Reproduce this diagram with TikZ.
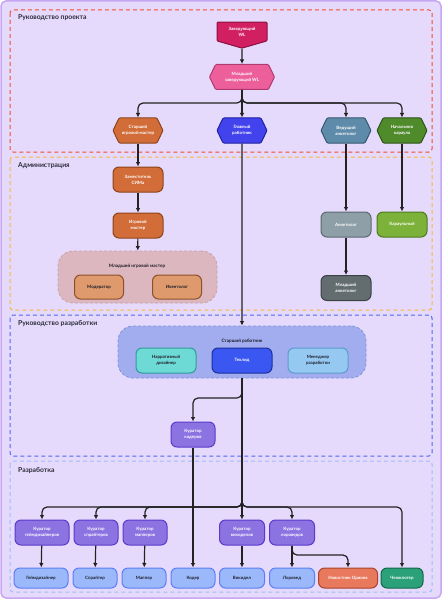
\documentclass[tikz,border=0pt]{standalone}
\usepackage{fontspec}
\setmainfont{Lato}
\usetikzlibrary{positioning}
\usetikzlibrary{shapes,arrows.meta}

\definecolor{bg}{HTML}{E6DAFC}
\definecolor{bgline}{HTML}{C9A6F4}
\definecolor{fred}{HTML}{F04E2E}
\definecolor{forange}{HTML}{F5B940}
\definecolor{fblue}{HTML}{5068F0}
\definecolor{flblue}{HTML}{A0BAF5}
\definecolor{lin}{HTML}{222222}
\definecolor{dtext}{HTML}{1E1E2A}
\definecolor{labtext}{HTML}{2B2B3A}
\definecolor{zavf}{HTML}{D11F62}\definecolor{zavd}{HTML}{8E1040}
\definecolor{mlzf}{HTML}{EC5F9B}\definecolor{mlzd}{HTML}{B03A70}
\definecolor{orf}{HTML}{D26D39}\definecolor{ord}{HTML}{8D431A}
\definecolor{glf}{HTML}{4343EE}\definecolor{gld}{HTML}{2020A0}
\definecolor{vedf}{HTML}{5F8BAA}\definecolor{vedd}{HTML}{35586F}
\definecolor{nachf}{HTML}{4F8A2B}\definecolor{nachd}{HTML}{2E5416}
\definecolor{mgmf}{HTML}{DDB7C0}\definecolor{mgmd}{HTML}{C9A2A8}
\definecolor{modf}{HTML}{DE9A6C}\definecolor{modd}{HTML}{8D4F2C}
\definecolor{ankf}{HTML}{8E9FA7}\definecolor{ankd}{HTML}{5B6970}
\definecolor{karf}{HTML}{7DB23A}\definecolor{kard}{HTML}{4D7A1E}
\definecolor{mankf}{HTML}{636D6F}\definecolor{mankd}{HTML}{3B4243}
\definecolor{srabf}{HTML}{A1ADEE}\definecolor{srabd}{HTML}{8492D8}
\definecolor{narf}{HTML}{6EDAD6}\definecolor{nard}{HTML}{2F9C98}
\definecolor{techf}{HTML}{3A57F2}\definecolor{techd}{HTML}{1E2E9A}
\definecolor{menf}{HTML}{95C9F1}\definecolor{mend}{HTML}{5B9CCC}
\definecolor{curf}{HTML}{8B73E2}\definecolor{curd}{HTML}{5A3ACB}
\definecolor{wrkf}{HTML}{9BB9FA}\definecolor{wrkd}{HTML}{5C7EF5}
\definecolor{novf}{HTML}{E8795C}\definecolor{novd}{HTML}{A8442C}
\definecolor{chekf}{HTML}{2BA17A}\definecolor{chekd}{HTML}{156647}

\tikzset{
  frame/.style={dashed, dash pattern=on 4pt off 3pt, line width=1pt, rounded corners=3pt},
  seclabel/.style={anchor=west, inner sep=0pt, font=\fontsize{6.8}{8}\selectfont\bfseries, text=labtext},
  box/.style={draw, rounded corners=6pt, line width=1pt, minimum width=50pt, minimum height=25pt,
    inner sep=1pt, align=center, font=\fontsize{4.4}{6}\selectfont\bfseries, text=white},
  hexa/.style={box, shape=signal, signal to=west and east, signal pointer angle=128, rounded corners=1pt},
  grp/.style={draw, dashed, dash pattern=on 3pt off 2pt, line width=0.8pt, rounded corners=15pt},
  grplabel/.style={inner sep=0pt, font=\fontsize{4.6}{6}\selectfont\bfseries, text=dtext},
  cur/.style={box, fill=curf, draw=curd, minimum width=44pt},
  wrk/.style={box, fill=wrkf, draw=wrkd, minimum width=44pt, minimum height=20pt, text=dtext},
  arr/.style={draw=lin, line width=1.2pt, -{Latex[length=4.5pt,width=4.5pt]}, rounded corners=5pt},
}

\begin{document}
\begin{tikzpicture}[x=1pt,y=-1pt]
  \useasboundingbox (0,0) rectangle (442,599);
  \draw[rounded corners=5pt, fill=bg, draw=bgline, line width=1.5pt] (1,1) rectangle (441,598);

  \draw[frame, draw=fred] (10,10) rectangle (432,152);
  \node[seclabel] (s1) at (18,18) {Руководство проекта};
  \draw[frame, draw=forange] (10,157) rectangle (432,310);
  \node[seclabel] (s2) at (18,166) {Администрация};
  \draw[frame, draw=fblue] (10,315) rectangle (432,456);
  \node[seclabel] (s3) at (18,324) {Руководство разработки};
  \draw[frame, draw=flblue] (10,461) rectangle (432,592);
  \node[seclabel] (s4) at (18,471) {Разработка};

  \node[box, shape=signal, signal to=south, signal pointer angle=148, rounded corners=1pt,
    fill=zavf, draw=zavd, minimum height=23pt] (zav) at (242,31.5) {Заведующий\\WL};
  \node[hexa, fill=mlzf, draw=mlzd, minimum width=65pt] (mlz) at (242,77) {Младший\\заведующий WL};
  \node[hexa, fill=orf, draw=ord] (sim) at (138,130.5) {Старший\\игровой мастер};
  \node[hexa, fill=glf, draw=gld] (glav) at (242,130.5) {Главный\\работник};
  \node[hexa, fill=vedf, draw=vedd] (ved) at (346,130.5) {Ведущий\\анкетолог};
  \node[hexa, fill=nachf, draw=nachd] (nach) at (402,130.5) {Начальник\\караула};

  \node[box, fill=orf, draw=ord] (zam) at (138,179.5) {Заместитель\\СИМа};
  \node[box, fill=orf, draw=ord] (igm) [below=20pt of zam] {Игровой\\мастер};
  \node[grp, fill=mgmf, draw=mgmd, minimum width=159pt, minimum height=52pt] (mgm) at (137.5,277) {};
  \node[grplabel] (mgml) at (137,266) {Младший игровой мастер};
  \node[box, fill=modf, draw=modd, text=dtext, minimum width=49pt, minimum height=24pt] (mod) at (99,287) {Модератор};
  \node[box, fill=modf, draw=modd, text=dtext, minimum width=49pt, minimum height=24pt] (ivt) at (177,287) {Ивентолог};
  \node[box, fill=ankf, draw=ankd] (ank) at (346,224.5) {Анкетолог};
  \node[box, fill=karf, draw=kard] (kar) at (402,224.5) {Караульный};
  \node[box, fill=mankf, draw=mankd] (mank) at (346,288) {Младший\\анкетолог};

  \node[grp, fill=srabf, draw=srabd, minimum width=248pt, minimum height=52pt] (srab) at (242,352) {};
  \node[grplabel] (srabl) at (242,341.5) {Старший работник};
  \node[box, fill=narf, draw=nard, text=dtext, minimum width=60pt] (nar) at (166,360.5) {Нарративный\\дизайнер};
  \node[box, fill=techf, draw=techd, minimum width=60pt] (tech) at (242,360.5) {Техлид};
  \node[box, fill=menf, draw=mend, text=dtext, minimum width=60pt] (men) at (318,360.5) {Менеджер\\разработки};
  \node[cur] (kk) at (193,434.5) {Куратор\\кодеров};

  \node[cur, minimum width=54pt] (kgd) at (42,532.5) {Куратор\\геймдизайнеров};
  \node[cur] (ksp) at (96,532.5) {Куратор\\спрайтеров};
  \node[cur] (kmp) at (145,532.5) {Куратор\\мапперов};
  \node[cur, minimum width=45pt] (kvk) at (242,532.5) {Куратор\\викиделов};
  \node[cur, minimum width=45pt] (klr) at (292,532.5) {Куратор\\лороведов};

  \node[wrk, minimum width=54pt] (gd) at (41,578) {Геймдизайнер};
  \node[wrk] (spr) at (95,578) {Спрайтер};
  \node[wrk] (map) at (144,578) {Маппер};
  \node[wrk] (kod) at (193,578) {Кодер};
  \node[wrk, minimum width=45pt] (vik) at (242,578) {Викидел};
  \node[wrk, minimum width=45pt] (lor) at (292,578) {Лоровед};
  \node[wrk, fill=novf, draw=novd, text=white, minimum width=59pt] (nov) at (348,578) {Новостник Ориона};
  \node[wrk, fill=chekf, draw=chekd, text=white, minimum width=42pt] (chek) at (402,578) {Чекжлогер};

  \coordinate (b1) at (242,103);
  \coordinate (b2) at (242,398);
  \coordinate (b3) at (242,507);
  \coordinate (b4) at (292,555);

  \draw[arr] (zav) -- (mlz);
  \draw[arr] (mlz.south) -- (b1) -| (sim.north);
  \draw[arr] (mlz.south) -- (glav.north);
  \draw[arr] (mlz.south) -- (b1) -| (ved.north);
  \draw[arr] (mlz.south) -- (b1) -| (nach.north);
  \draw[arr] (sim) -- (zam);
  \draw[arr] (zam) -- (igm);
  \draw[arr] (igm) -- (mgm);
  \draw[arr] (ved) -- (ank);
  \draw[arr] (nach) -- (kar);
  \draw[arr] (ank) -- (mank);
  \draw[arr] (glav) -- (srab);
  \draw[arr] (srab.south) -- (b2) -| (kk.north);
  \draw[arr] (kk) -- (kod);
  \draw[arr] (srab.south) -- (b3) -| (kgd.north);
  \draw[arr] (srab.south) -- (b3) -| (ksp.north);
  \draw[arr] (srab.south) -- (b3) -| (kmp.north);
  \draw[arr] (srab.south) -- (kvk.north);
  \draw[arr] (srab.south) -- (b3) -| (klr.north);
  \draw[arr] (srab.south) -- (b3) -| (chek.north);
  \draw[arr] (kgd) -- (gd);
  \draw[arr] (ksp) -- (spr);
  \draw[arr] (kmp) -- (map);
  \draw[arr] (kvk) -- (vik);
  \draw[arr] (klr) -- (lor);
  \draw[arr] (klr.south) -- (b4) -| (nov.north);
\end{tikzpicture}
\end{document}
